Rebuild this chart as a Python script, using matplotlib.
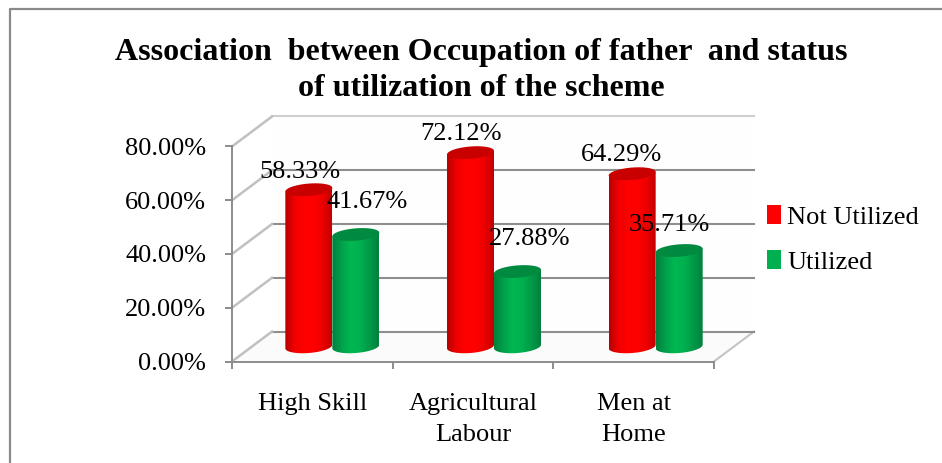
import numpy as np
import matplotlib
matplotlib.use("Agg")
import matplotlib.pyplot as plt
from matplotlib.path import Path
from matplotlib.patches import PathPatch, Patch, Rectangle
from matplotlib.lines import Line2D
from matplotlib.colors import LinearSegmentedColormap

categories = ["High Skill", "Agricultural\nLabour", "Men at\nHome"]
series_names = ["Not Utilized", "Utilized"]
not_utilized = [58.33, 72.12, 64.29]
utilized = [41.67, 27.88, 35.71]
y_ticks = [0, 20, 40, 60, 80]
y_tick_labels = ["0.00%", "20.00%", "40.00%", "60.00%", "80.00%"]
title_text = "Association  between Occupation of father  and status\nof utilization of the scheme"

W, H = 942, 463
plt.rcParams["font.family"] = ["Liberation Serif", "DejaVu Serif"]
fig = plt.figure(figsize=(W / 100, H / 100), dpi=100, facecolor="white")

# front plane of the pseudo-3D plot, in pixels
L, R, B, T = 232, 714, 361.5, 146.5
ax = fig.add_axes([L / W, 1 - B / H, (R - L) / W, (B - T) / H])
ax.set_xlim(0, 3)
ax.set_ylim(0, 80)
ax.patch.set_alpha(0)
for s in ["top", "right"]:
    ax.spines[s].set_visible(False)
for s in ["left", "bottom"]:
    ax.spines[s].set_color("#8c8c8c")
    ax.spines[s].set_linewidth(1.4)

px = 3 / (R - L)      # data units per pixel in x
py = 80 / (B - T)     # data units per pixel in y
DX, DY = 40 * px, 30 * py
OX, OY = 21 * px, 15 * py

# floor and back wall
ax.add_patch(Rectangle((DX, DY), 3, 80, fc="#fefefe", ec="none", zorder=0, clip_on=False))
floor = Path([(0, 0), (3, 0), (3 + DX, DY), (DX, DY), (0, 0)])
ax.add_patch(PathPatch(floor, fc="#fbfbfb", ec="none", zorder=0.5, clip_on=False))
ax.plot([3, 3 + DX], [0, DY], color="#c4c4c4", lw=1.5, clip_on=False, zorder=1)
for v in y_ticks:
    c = "#cfcfcf" if v == 80 else "#8e8e8e"
    ax.plot([DX, 3 + DX], [v + DY, v + DY], color=c, lw=1.5, clip_on=False, zorder=1)
    ax.plot([0, DX], [v, v + DY], color="#c0c0c0", lw=1.8, clip_on=False, zorder=1)

# cylinders
red_cmap = LinearSegmentedColormap.from_list("r", ["#b80000", "#f00000", "#ff0000", "#ff0000", "#ee0000", "#c00000"])
green_cmap = LinearSegmentedColormap.from_list("g", ["#00803c", "#00a04c", "#00b851", "#00b050", "#009a48", "#00803c"])
cap_colors = ["#c80000", "#008a40"]
grad = np.linspace(0, 1, 128).reshape(1, -1)
bar_w = 47 * px
a, b, tilt = bar_w / 2, 6.5 * py, 1.8 * py
t = np.linspace(0, 2 * np.pi, 80)


def cylinder(cx, v, cmap, cap, z):
    lower = np.linspace(np.pi, 2 * np.pi, 40)
    xs = cx + a * np.cos(lower)
    ys = OY - b * np.abs(np.sin(lower)) + tilt * np.cos(lower)
    upper = np.linspace(0, np.pi, 40)
    xu = cx + a * np.cos(upper)
    yu = OY + v + tilt * np.cos(upper)
    verts = np.vstack([np.column_stack([xs, ys]), np.column_stack([xu, yu]), [[xs[0], ys[0]]]])
    body = PathPatch(Path(verts), fc="none", ec="none", zorder=z, clip_on=False)
    ax.add_patch(body)
    im = ax.imshow(grad, cmap=cmap, aspect="auto", zorder=z, interpolation="bilinear",
                   extent=[cx - a, cx + a, 0, OY + v + 3 * b])
    im.set_clip_path(body)
    top = np.column_stack([cx + a * np.cos(t), OY + v + b * 0.95 * np.sin(t) + tilt * np.cos(t)])
    ax.add_patch(PathPatch(Path(top), fc=cap, ec="none", zorder=z + 0.1, clip_on=False))


lab_off = [[(-9, 18), (-10, 19), (-11, 19)], [(11, 33), (12, 33), (-10, 26)]]
for j, vals in enumerate([not_utilized, utilized]):
    for i, v in enumerate(vals):
        cx = i + 0.5 + OX + (j - 0.5) * bar_w + (i - 1) * 1 * px
        cylinder(cx, v, [red_cmap, green_cmap][j], cap_colors[j], 3 + j)
        dx, dy = lab_off[j][i]
        ax.annotate(f"{v:.2f}%", (cx, v + OY), xytext=(dx * 0.72, dy * 0.72),
                    textcoords="offset points", ha="center", va="center",
                    fontsize=19, color="black", zorder=10, annotation_clip=False)
ax.set_xlim(0, 3)
ax.set_ylim(0, 80)

# axes, ticks and labels
ax.set_yticks(y_ticks, y_tick_labels, fontsize=19)
ax.set_xticks([0, 1, 2, 3], [""] * 4)
ax.set_xticks([0.5, 1.5, 2.5], categories, minor=True, fontsize=19, linespacing=1.52)
ax.tick_params(axis="x", which="minor", length=0, pad=22.5)
ax.tick_params(axis="x", which="major", length=5, width=1.4, color="#8c8c8c")
ax.tick_params(axis="y", length=5, width=1.4, color="#8c8c8c", pad=13.5, labelcolor="black")

fig.text(481 / W, 1 - 70.5 / H, title_text, ha="center", va="center", fontsize=23,
         fontweight="bold", linespacing=1.28)

handles = [Patch(fc="#ff0000", ec="none"), Patch(fc="#00b050", ec="none")]
fig.legend(handles, series_names, loc="center left", bbox_to_anchor=(767 / W, 1 - 239.5 / H),
           frameon=False, fontsize=19, handlelength=0.53, handleheight=0.7,
           handletextpad=0.23, labelspacing=0.8, borderpad=0, borderaxespad=0)

# outer chart frame
frame = Line2D([10, 10, 942], [H, 9, 9], color="#8a8a8a", lw=1.6)
frame.set_transform(matplotlib.transforms.Affine2D().scale(1 / W, -1 / H).translate(0, 1) + fig.transFigure)
fig.add_artist(frame)

fig.savefig("out.png", dpi=100)
